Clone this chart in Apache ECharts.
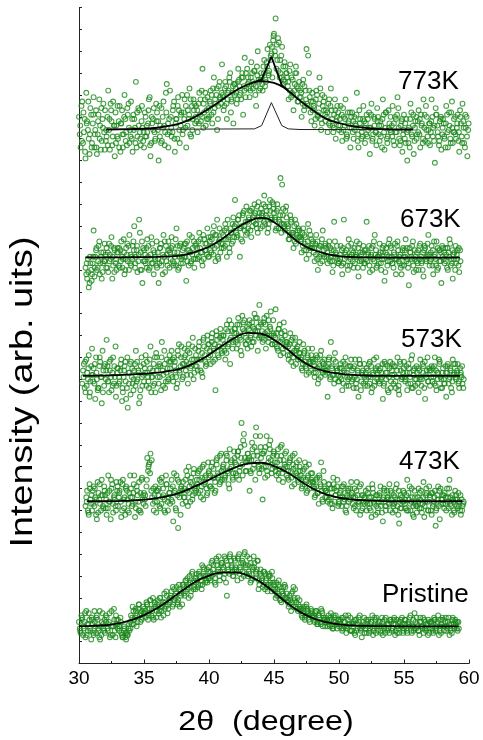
<!DOCTYPE html>
<html><head><meta charset="utf-8">
<script src="https://cdn.jsdelivr.net/npm/echarts@6/dist/echarts.min.js"></script>
<style>html,body{margin:0;padding:0;background:#fff}#c{width:483px;height:740px}</style>
</head><body><div id="c"></div>
<script>
// ---------- data ----------
const xStep = 0.125;
const xTicks = [30, 35, 40, 45, 50, 55, 60];
const sampleLabels = ['773K', '673K', '573K', '473K', 'Pristine'];
const labelAnchors = [[54.54, 265.9], [54.69, 202.8], [54.77, 147.9], [54.62, 92.1], [53.31, 31.3]];

// three interleaved point sets per pattern: x = start + i*xStep
const startPristine = 30.0;
const valsPristine = [
19,14,21,16,12,18,23,15, 20,13,17,22,15,11,19,16, 14,21,18,12,24,17,15,20, 20,17,14,12,16,11,13,15,
22,26,20,24,19,27,23,21, 25,21,27,23,29,24,20,26, 27,23,30,26,22,28,31,25, 28,33,27,31,35,29,26,32,
36,31,38,34,40,33,37,35, 39,35,42,38,36,43,40,37, 44,38,47,41,36,45,49,42, 46,39,48,31,43,50,44,40,
47,42,49,44,39,46,51,41, 45,48,38,43,46,41,47,36, 40,35,42,38,33,41,36,39, 36,30,34,38,29,33,31,35,
30,26,29,28,35,34,25,27, 26,22,25,20,27,23,19,24, 22,19,24,18,21,25,17,20, 21,17,20,23,16,19,22,18,
17,20,15,19,22,16,18,21, 15,19,13,18,21,16,12,17, 18,14,20,16,19,13,17,21, 15,19,17,13,20,16,18,14,
19,16,21,15,17,14,20,18, 16,20,14,18,22,17,15,19, 18,15,21,17,14,19,16,20, 16,19,14,20,17,22,15,18,
20,17,15,19,13,18,21,16, 18,15];
const startPristineB = 30.0625;
const valsPristineB = [
16,22,13,19,24,15,20,11, 18,24,14,20,12,17,23,15, 22,16,19,13,17,25,12,18, 17,21,13,15,12,14,16,19,
18,24,21,17,25,22,20,26, 23,28,20,25,22,30,27,21, 29,24,21,27,32,26,23,29, 31,26,34,30,28,36,33,27,
32,38,35,30,37,41,34,39, 41,36,40,34,44,39,38,42, 39,46,43,37,48,42,40,45, 43,49,37,45,41,47,42,48,
44,38,50,43,47,40,45,49, 42,37,44,49,39,43,34,41, 38,42,34,39,36,40,33,37, 33,37,31,35,28,32,36,30,
28,31,24,33,29,26,30,25, 24,21,26,22,25,20,23,22, 20,23,18,22,19,24,21,17, 19,22,17,20,16,21,18,20,
19,16,21,17,14,20,18,15, 18,14,20,16,19,15,17,21, 16,19,14,18,22,15,20,17, 19,15,21,17,14,18,16,20,
15,18,13,20,16,19,17,14, 20,16,18,21,15,17,23,16, 17,13,19,16,20,15,18,14, 19,16,21,15,18,13,20,17,
15,19,17,21,16,14,18,20, 16,19];
const startPristineC = 30.09375;
const valsPristineC = [
15,20,17,23,13,18,16,21, 14,19,21,16,24,13,18,20, 19,15,23,17,13,20,22,16, 15,19,12,17,14,13,18,16,
21,18,25,22,27,19,24,23, 24,27,22,29,25,21,28,24, 26,30,24,28,25,33,27,30, 30,35,29,32,27,34,31,36,
35,33,39,36,31,42,38,34, 38,41,36,45,40,37,43,39, 42,40,45,39,47,43,38,46, 44,41,47,42,49,45,40,43,
43,48,41,46,42,50,44,40, 41,46,39,44,42,47,38,43, 39,36,41,35,40,37,42,34, 34,31,36,29,33,35,30,32,
29,27,32,26,30,28,24,29, 25,23,21,26,24,22,25,21, 21,24,19,22,18,23,20,19, 20,18,21,17,22,19,16,20,
18,21,16,19,17,22,15,18, 17,20,15,18,22,16,19,14, 20,17,15,19,16,21,14,18, 17,14,19,16,21,15,18,20,
16,20,18,14,19,17,21,15, 18,15,19,17,14,20,16,21, 15,19,17,21,16,18,13,19, 18,15,20,16,19,17,14,21,
17,21,16,18,15,20,17,19, 19,16];

const start473 = 30.5;
const vals473 = [
72,79,68,75,
70,81,76,66,78,73,84,71, 77,68,86,74,80,69,75,83, 72,79,67,84,76,81,70,78, 80,73,86,71,77,83,69,75,
78,72,94,91,96,76,70,81, 74,80,71,85,77,69,82,76, 73,84,65,79,86,62,78,81, 83,76,88,72,81,85,77,80,
79,87,84,76,90,82,86,78, 88,81,92,85,79,94,86,83, 84,91,86,95,82,89,93,87, 92,86,97,90,110,102,94,88,
96,79,93,89,99,108,92,87, 94,75,97,90,86,100,93,89, 96,88,92,84,99,87,93,90, 90,84,94,81,89,86,92,83,
88,80,85,92,78,86,82,84, 83,76,81,78,85,92,74,80, 79,74,82,76,71,80,77,84, 73,79,76,82,70,77,74,80,
78,71,76,83,73,68,77,74, 76,70,80,73,67,78,75,72, 71,78,74,65,79,72,76,82, 75,69,73,80,72,64,77,74,
78,71,84,75,70,76,67,73, 72,80,75,69,83,74,78,70, 76,68,73,79,71,81,66,75, 73,78,70,76,84,72,75,69,
77,71,74,68,72];
const start473B = 30.5625;
const vals473B = [
76,70,82,73,
79,72,68,83,75,70,77,81, 71,78,74,66,82,76,72,79, 76,83,70,75,68,79,73,86, 72,78,67,81,74,70,84,77,
75,81,88,92,79,73,77,69, 79,72,83,76,70,86,74,78, 80,74,87,71,77,83,68,79, 76,84,79,90,74,82,87,78,
84,78,89,81,75,85,80,92, 81,90,85,78,93,87,82,96, 90,84,96,88,80,92,85,97, 87,95,84,99,91,105,88,93,
94,88,101,95,84,97,90,104, 89,96,85,104,92,98,87,95, 92,86,98,89,95,83,91,97, 85,92,88,95,82,90,86,93,
86,81,89,84,79,91,83,87, 81,77,85,73,82,79,88,76, 76,82,73,80,85,74,79,72, 78,72,81,75,69,79,76,83,
73,80,70,77,74,82,71,76, 79,73,76,70,82,74,68,77, 74,81,69,76,72,79,75,70, 78,72,76,82,68,75,71,79,
73,77,70,81,74,68,79,72, 76,71,79,73,67,77,74,81, 70,78,74,63,77,72,80,75, 77,73,80,71,76,68,74,79,
72,78,70,75,73];
const start473C = 30.59375;
const vals473C = [
74,69,80,77,
73,80,75,69,82,77,72,79, 75,71,79,84,73,77,70,81, 78,74,82,71,80,75,69,76, 76,82,74,79,70,78,85,73,
77,84,90,87,93,80,74,79, 77,84,73,80,75,82,70,78, 75,81,78,70,84,76,80,73, 80,74,86,78,83,75,89,81,
82,88,79,85,91,83,77,87, 86,80,89,83,91,85,95,88, 89,85,93,87,98,90,84,94, 91,97,88,94,86,100,92,96,
93,87,98,91,104,95,89,99, 96,90,99,88,94,102,91,97, 90,95,87,93,100,89,96,86, 88,93,85,91,96,87,84,90,
84,88,82,90,85,80,87,83, 80,84,78,86,81,75,83,79, 78,75,80,73,82,77,81,74, 76,81,74,78,72,80,75,77,
76,72,79,74,81,70,77,73, 74,78,71,76,80,73,77,69, 77,72,75,80,70,76,73,79, 73,77,70,75,79,71,76,74,
75,70,78,73,80,72,76,69, 74,78,71,76,72,80,70,77, 78,72,76,70,75,79,73,77, 71,76,74,80,73,77,70,75,
75,72,77,70,74];

const start573 = 30.25;
const vals573 = [
128,137,124,133,141,129,
144,135,121,130,126,138,119,134, 137,148,129,134,125,140,131,127, 135,129,139,124,136,121,117,133,
138,128,134,143,130,119,136,127, 129,141,133,126,145,131,137,124, 140,128,136,147,132,126,139,130,
135,143,129,138,126,141,133,145, 131,144,138,128,142,136,149,133, 141,134,147,139,131,145,136,150,
146,137,151,143,125,148,140,153, 142,150,139,155,146,137,152,148, 153,144,158,149,141,156,151,146,
148,157,145,154,160,150,143,164, 155,147,158,144,152,149,161,146, 150,162,144,153,141,148,156,145,
147,139,151,142,136,149,144,140, 142,135,146,138,132,144,137,141, 138,131,141,128,136,143,133,139,
136,122,140,147,132,128,138,134, 129,137,125,134,140,131,127,136, 134,126,139,130,122,137,133,128,
127,135,131,138,124,133,129,140, 136,128,133,121,138,130,125,135, 129,137,132,126,140,123,134,131,
138,130,125,135,128,141,132,127, 133,124,139,130,136,121,134,129, 127,136,131,140,125,133,138,130,
135,128,122,137,131,126,139,133, 130,137,126,133,128];
const start573B = 30.3125;
const vals573B = [
134,126,139,130,122,136,
132,128,140,125,136,131,143,127, 130,136,124,139,133,128,145,135, 128,134,120,131,138,126,133,137,
131,125,137,129,134,122,140,132, 135,127,131,139,124,134,128,142, 131,137,125,134,143,129,135,138,
138,131,140,134,128,146,136,130, 137,141,132,146,135,139,130,144, 136,143,139,133,148,141,137,146,
143,149,138,146,152,141,145,150, 148,143,153,145,157,149,144,151, 147,155,150,143,159,152,146,154,
153,149,156,147,152,158,154,150, 149,156,151,159,147,154,150,157, 146,151,143,155,149,144,152,147,
141,146,138,149,143,137,145,142, 139,134,142,136,140,133,138,144, 133,139,135,130,141,134,137,132,
134,139,130,136,132,142,135,129, 135,130,138,133,127,136,131,139, 130,136,128,134,139,125,132,137,
133,127,137,131,126,139,134,130, 129,135,131,127,137,133,124,138, 134,128,136,131,125,138,130,133,
131,136,128,133,139,126,135,130, 128,134,131,137,126,132,140,135, 134,129,136,127,133,139,131,126,
130,136,133,128,135,124,132,137, 133,128,135,131,126];
const start573C = 30.34375;
const vals573C = [
131,138,127,135,124,132,
129,137,133,126,140,131,124,136, 134,129,138,131,127,136,122,133, 131,137,126,134,129,140,128,123,
135,130,127,138,133,125,131,137, 133,138,129,135,131,127,140,134, 136,131,140,127,137,133,129,141,
132,139,136,131,143,134,140,137, 140,134,143,137,132,145,139,136, 139,145,134,142,149,138,144,140,
141,147,144,139,150,145,149,143, 150,146,142,152,148,155,147,153, 151,146,155,148,153,157,149,144,
155,150,147,153,158,152,149,156, 152,148,155,150,157,153,146,151, 149,145,153,147,151,142,150,146,
145,141,148,140,146,143,139,147, 140,137,143,135,141,138,134,139, 136,133,140,137,131,138,135,134,
133,137,131,135,139,130,134,132, 131,135,128,137,133,130,136,129, 135,131,126,133,137,129,134,131,
130,134,128,136,132,127,135,133, 134,130,137,128,133,136,131,126, 132,136,129,134,127,137,131,135,
129,133,137,131,126,134,130,136, 135,130,127,133,138,131,129,134, 131,135,128,134,130,137,126,133,
128,133,136,130,134,129,137,131, 134,129,132,136,130];

const start673 = 30.5;
const vals673 = [
181,176,172,183,
178,198,186,180,191,183,176,188, 184,190,179,187,195,182,189,180, 188,181,193,185,178,190,184,196,
182,191,200,186,179,203,188,174, 189,183,194,180,187,192,178,185, 181,174,190,184,196,179,187,193,
188,195,182,186,199,180,191,185, 183,192,175,189,196,184,190,181, 192,185,197,188,182,194,189,199,
186,195,191,200,184,203,193,188, 197,190,201,186,195,199,192,204, 212,195,203,186,200,206,198,209,
199,207,195,204,210,201,197,206, 208,200,214,205,197,209,203,211, 206,198,210,203,222,219,201,207,
201,194,205,197,190,203,196,199, 195,188,199,192,185,201,190,194, 193,184,196,180,191,187,198,186,
190,183,193,186,179,202,188,185, 184,191,178,203,187,182,194,185, 189,181,186,193,177,188,184,191,
183,202,187,179,190,185,196,181, 186,192,180,188,175,190,184,194, 190,183,187,178,193,186,181,189,
182,194,185,173,188,191,179,186, 188,180,192,184,177,190,186,196, 184,191,178,187,193,181,189,174,
190,183,187,180,194,185,176,188, 183,189,179];
const start673B = 30.5625;
const vals673B = [
178,185,174,180,
183,177,189,181,193,186,179,184, 187,181,192,185,176,190,183,188, 182,189,186,194,180,187,191,183,
186,193,181,189,184,197,180,190, 184,190,186,181,195,183,188,182, 188,183,192,178,186,191,182,189,
185,191,183,194,188,181,192,186, 190,186,193,182,188,195,185,191, 187,193,190,184,196,189,192,186,
193,188,197,190,196,186,199,192, 192,198,194,203,190,197,201,195, 201,196,205,199,193,207,202,197,
204,198,208,202,206,199,211,203, 205,210,201,207,199,212,204,208, 204,199,208,202,197,205,200,209,
199,194,202,196,200,192,198,195, 193,197,189,195,191,187,196,190, 188,192,185,190,183,194,187,191,
186,191,184,189,182,193,187,183, 187,182,190,185,189,180,186,192, 184,190,187,181,192,185,188,183,
189,184,191,186,180,193,187,182, 183,188,185,191,179,187,192,184, 186,181,192,185,189,183,178,190,
189,184,181,190,186,193,185,180, 183,191,186,180,189,185,192,187, 188,182,193,185,180,189,184,191,
185,190,181,188,192,183,187,180, 187,182,189];
const start673C = 30.59375;
const vals673C = [
183,179,186,175,
186,181,190,184,178,188,183,192, 181,188,184,191,186,179,185,190, 190,184,181,188,185,192,180,187,
185,189,183,191,187,180,193,184, 187,181,191,185,183,189,186,193, 185,190,182,187,193,184,189,181,
190,184,188,182,191,186,183,189, 186,192,184,189,183,187,193,185, 190,186,194,188,185,192,187,195,
189,194,187,196,191,185,194,190, 196,191,199,194,188,197,193,200, 197,203,199,194,205,200,196,202,
203,207,200,205,201,209,204,199, 206,202,209,204,201,207,203,210, 203,207,199,205,201,208,198,204,
200,196,203,197,193,201,195,198, 194,191,196,189,193,198,190,192, 190,187,193,186,191,184,189,192,
188,185,190,184,189,186,191,183, 185,189,183,188,186,191,182,187, 188,183,186,190,184,187,181,189,
185,188,182,187,191,184,189,186, 187,183,190,185,188,182,186,191, 183,188,185,191,184,187,182,186,
186,190,183,188,185,182,189,184, 189,185,183,188,191,184,187,182, 185,189,186,182,190,184,188,186,
188,184,190,186,182,189,185,191, 185,190,184];

const start773 = 30.0;
const vals773 = [
250,236,257,243,231,248,240,254, 238,259,244,233,251,246,239,256, 253,241,262,235,248,257,232,246,
240,255,247,236,260,243,251,238, 257,234,249,266,241,253,237,245, 236,250,243,258,232,247,254,240,
252,230,246,239,257,243,265,236, 262,241,255,234,249,259,238,252, 244,258,236,253,263,241,249,256,
255,243,261,248,272,252,246,259, 250,262,247,268,256,244,264,258, 274,253,266,249,262,270,257,247,
265,256,272,260,268,251,277,263, 268,259,275,263,271,255,280,266, 270,262,276,266,281,271,278,268,
288,295,276,284,270,282,267,273, 268,258,274,261,253,270,264,257, 262,250,267,255,281,278,259,248,
257,246,262,250,268,244,255,259, 253,243,258,263,246,251,240,255, 244,255,239,250,258,241,248,236,
252,240,247,261,236,249,243,255, 238,251,244,233,256,242,249,237, 250,239,246,258,235,252,241,247,
243,255,237,249,259,240,246,234, 251,238,230,245,256,241,233,248, 242,253,236,247,258,239,250,244,
237,258,245,229,251,241,248,235, 249,240,255,236,246,252,238,243, 240,251,234,247,256,238,245,232];
const start773B = 30.0625;
const vals773B = [
242,255,238,249,261,244,233,251, 247,236,253,242,258,235,249,243, 239,250,244,256,237,246,252,241,
248,234,253,242,249,237,256,244, 240,251,245,236,254,243,248,239, 252,241,247,259,238,249,243,256,
244,255,238,250,246,261,242,249, 250,243,257,247,240,253,246,260, 252,245,260,249,242,255,258,247,
248,256,251,262,245,258,253,249, 257,251,263,254,260,249,266,256, 260,255,264,258,268,252,261,265,
263,258,267,261,270,264,259,272, 266,262,270,265,260,273,267,263, 268,273,264,275,270,283,279,285,
280,272,286,268,278,265,275,270, 264,271,259,267,262,273,257,266, 259,265,253,262,256,270,252,261,
255,249,260,252,263,247,257,251, 250,256,246,253,243,258,248,252, 249,243,254,246,240,252,245,250,
243,250,246,239,253,245,241,248, 247,241,252,245,239,250,243,254, 242,248,236,251,245,240,253,244,
246,239,250,243,254,237,248,242, 240,249,244,236,252,246,239,250, 248,242,251,238,245,255,241,247,
243,250,239,254,246,237,249,242, 247,236,251,244,240,257,243,250, 245,239,253,241,248,236,250,244];
const start773C = 30.09375;
const vals773C = [
246,239,252,234,247,257,242,236, 251,242,236,248,240,254,245,235, 244,237,249,253,241,246,238,255,
236,247,242,250,239,254,245,241, 249,244,238,252,246,240,255,243, 241,246,253,237,250,244,239,248,
248,241,254,245,237,252,247,243, 245,253,240,249,255,244,251,242, 249,255,246,251,258,244,253,250,
253,247,258,250,256,261,249,254, 256,260,252,258,263,255,259,261, 259,263,256,261,266,258,264,260,
261,266,264,258,268,262,270,265, 263,268,266,271,264,269,262,267, 265,270,267,273,269,276,282,287,
278,283,271,276,268,273,266,270, 266,262,268,260,265,270,263,259, 261,256,264,258,255,262,257,253,
254,258,251,256,249,260,253,248, 252,247,255,249,245,253,250,246, 246,251,244,249,242,247,252,245,
248,244,251,242,247,240,249,245, 242,249,245,251,240,246,243,248, 246,241,249,243,252,238,245,250,
241,247,243,251,245,239,249,244, 247,243,238,249,242,251,245,240, 243,249,246,240,251,244,238,247,
248,241,246,251,243,239,250,245, 241,247,243,252,238,245,249,242, 247,243,250,238,245,251,241,247];

// fitted curves
const fitPristine = [[30,17.1],[31,17.2],[32,17.5],[33,18.3],[34,19.8],[35,22.1],[36,25.3],[37,29.3],[38,33.6],[39,37.5],[40,40.2],[41,41.6],[42,41.7],[43,40.2],[44,37.1],[45,32.6],[46,27.7],[47,23.6],[48,20.7],[49,18.9],[50,17.9],[51,17.4],[52,17.2],[53,17.1],[55,17.0],[57,17.0],[59.2,17.0]];
const fit473 = [[30.6,74.2],[32,74.2],[33,74.3],[34,74.5],[35,74.9],[36,75.6],[37,76.8],[38,78.6],[39,81.2],[40,84.0],[41,87.0],[42,89.6],[43,91.4],[44,91.8],[45,90.3],[46,87.5],[47,83.6],[48,79.9],[49,77.3],[50,75.8],[51,75.0],[52,74.6],[53,74.4],[54,74.2],[56,74.2],[59.5,74.2]];
const fit573 = [[30.3,131.5],[32,131.7],[33,131.9],[34,132.2],[35,132.5],[36,133.0],[37,133.8],[38,135.2],[39,137.8],[40,141.2],[41,145.3],[42,149.0],[43,151.2],[44,150.8],[45,148.0],[46,143.8],[47,139.0],[48,135.5],[49,133.6],[50,132.6],[51,132.0],[52,131.7],[53,131.5],[55,131.5],[59.3,131.5]];
const fit673 = [[30.5,185.7],[32,185.7],[34,185.8],[36,186.0],[37,186.2],[38,186.8],[39,188.4],[40,190.6],[41,194.1],[42,198.6],[43,202.1],[44,203.8],[45,201.8],[46,197.0],[47,192.2],[48,189.2],[49,187.4],[50,186.3],[51,185.9],[52,185.7],[55,185.6],[59.3,185.6]];
const fit773Broad = [[32.1,244.2],[34,244.4],[35,244.6],[36,245.0],[37,246.0],[38,247.5],[39,250.2],[40,253.8],[41,257.8],[42,261.8],[43,264.8],[44,266.3],[45,265.5],[46,262.3],[47,257.4],[48,253.0],[49,249.2],[50,247.2],[51,245.8],[52,245.0],[53,244.5],[54,244.3],[55.7,244.2]];
const fit773Total = [[43.5,265.9],[44.05,267.0],[44.8,277.5],[45.6,264.5],[46.1,262.0]];
const fit773Narrow = [[32.1,244.2],[43.5,244.5],[44.05,246.0],[44.8,256.5],[45.6,246.0],[46.1,244.5],[47,244.2],[55.7,244.2]];

// ---------- chart ----------
function toPairs(start, vals) { return vals.map((v, i) => [start + i * xStep, v]); }
const FONT = '"Liberation Sans", Arial, Helvetica, sans-serif';
const GREEN = '#1a881a';

const scatterSets = [
  [[start773, vals773], [start773B, vals773B], [start773C, vals773C]],
  [[start673, vals673], [start673B, vals673B], [start673C, vals673C]],
  [[start573, vals573], [start573B, vals573B], [start573C, vals573C]],
  [[start473, vals473], [start473B, vals473B], [start473C, vals473C]],
  [[startPristine, valsPristine], [startPristineB, valsPristineB], [startPristineC, valsPristineC]]
];
const series = [];
scatterSets.forEach((parts, k) => {
  let data = [];
  parts.forEach(p => { data = data.concat(toPairs(p[0], p[1])); });
  series.push({
    name: sampleLabels[k], type: 'scatter', data: data,
    symbol: 'circle', symbolSize: 4.8,
    itemStyle: { color: 'rgba(255,255,255,0)', borderColor: GREEN, borderWidth: 1.1 },
    z: 2, silent: true, large: false, progressive: 0
  });
});
[fitPristine, fit473, fit573, fit673, fit773Broad].forEach(f => {
  series.push({ type: 'line', data: f, smooth: 0.5, showSymbol: false, symbol: 'none',
    lineStyle: { color: '#000', width: 1.8 }, z: 5, silent: true });
});
series.push({ type: 'line', data: fit773Total, smooth: false, symbol: 'none',
  lineStyle: { color: '#000', width: 1.8 }, z: 5, silent: true });
series.push({ type: 'line', data: fit773Narrow, smooth: false, symbol: 'none',
  lineStyle: { color: '#222', width: 1 }, z: 4, silent: true });

const chart = echarts.init(document.getElementById('c'), null, { renderer: 'canvas' });
chart.setOption({
  animation: false,
  backgroundColor: '#fff',
  grid: { left: 79, right: 14, top: 7.5, bottom: 76.5, containLabel: false },
  xAxis: {
    type: 'value', min: xTicks[0], max: xTicks[xTicks.length - 1], interval: 5,
    axisLine: { show: true, lineStyle: { color: '#222', width: 1 } },
    axisTick: { show: true, inside: true, length: 4, lineStyle: { color: '#222' } },
    minorTick: { show: true, splitNumber: 2, length: 2.5, lineStyle: { color: '#222' } },
    splitLine: { show: false },
    axisLabel: { color: '#000', fontSize: 19, fontFamily: FONT, margin: 6 }
  },
  yAxis: {
    type: 'value', min: 0, max: 300, interval: 10,
    axisLine: { show: true, onZero: false, lineStyle: { color: '#222', width: 1 } },
    axisTick: { show: true, inside: true, length: 3, lineStyle: { color: '#222' } },
    splitLine: { show: false },
    axisLabel: { show: false }
  },
  series: series
});

const graphics = sampleLabels.map((t, k) => {
  const p = chart.convertToPixel({ gridIndex: 0 }, labelAnchors[k]);
  return { type: 'text', x: p[0], y: p[1], z: 10,
    style: { text: t, fontSize: 26, fontFamily: FONT, fill: '#000', align: 'left', verticalAlign: 'middle' } };
});
graphics.push({ type: 'text', x: 266, y: 722, z: 10, scaleX: 1.15,
  style: { text: '2\u03b8  (degree)', fontSize: 28, fontFamily: FONT, fill: '#000', align: 'center', verticalAlign: 'middle' } });
graphics.push({ type: 'text', x: 23, y: 392, rotation: Math.PI / 2, scaleX: 1.22, z: 10,
  style: { text: 'Intensity (arb. uits)', fontSize: 31, fontFamily: FONT, fill: '#000', align: 'center', verticalAlign: 'middle' } });
chart.setOption({ graphic: graphics });
</script>
</body></html>
